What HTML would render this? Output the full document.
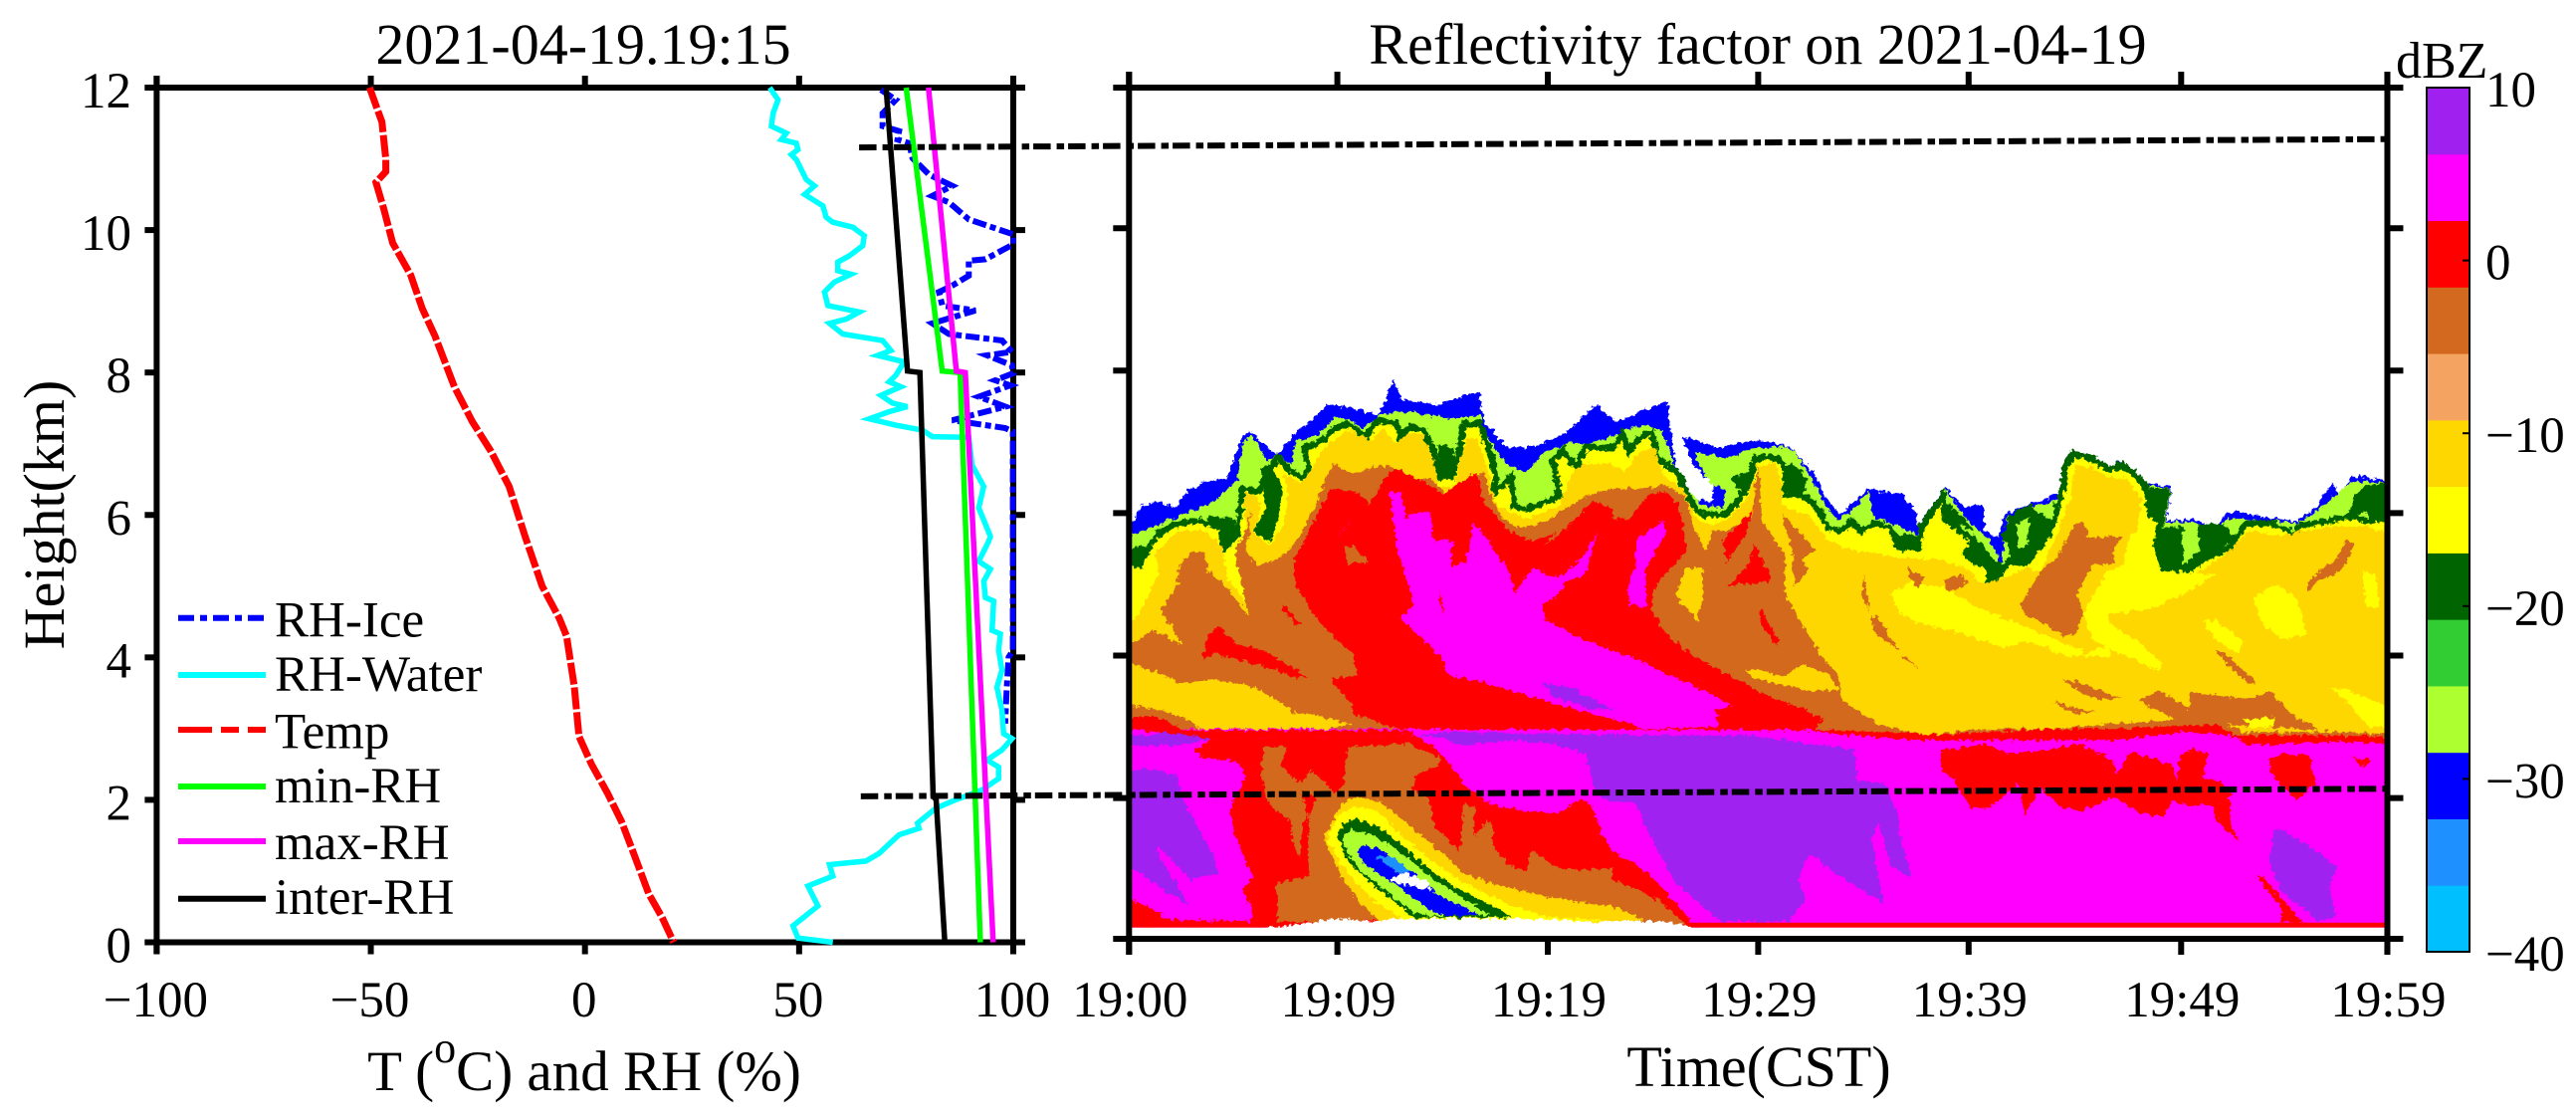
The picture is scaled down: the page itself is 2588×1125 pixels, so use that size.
<!DOCTYPE html>
<html lang="en">
<head>
<meta charset="utf-8">
<title>Reflectivity factor on 2021-04-19</title>
<style>
html,body{margin:0;padding:0;background:#fff;}
svg{display:block;}
text{font-family:"Liberation Serif",serif;fill:#000;}
</style>
</head>
<body>
<svg id="chart" xmlns="http://www.w3.org/2000/svg" width="2588" height="1125" viewBox="0 0 2588 1125">
  <defs>
    <clipPath id="field-clip"><rect x="1134.3" y="80" width="1263.4" height="863"/></clipPath>
    <filter id="rough" x="-2%" y="-2%" width="104%" height="104%">
      <feTurbulence type="fractalNoise" baseFrequency="0.2" numOctaves="3" seed="4" result="n"/>
      <feDisplacementMap in="SourceGraphic" in2="n" scale="8" xChannelSelector="R" yChannelSelector="G"/>
    </filter>
  </defs>
  <g id="field-clipper" clip-path="url(#field-clip)"><g id="field" filter="url(#rough)"></g><g id="field-base"></g></g>
  <g id="axes"></g>
  <g id="profiles"></g>
  <g id="refs"></g>
  <g id="legend"></g>
  <g id="cbar"></g>
  <g id="labels">
    <text x="586" y="64" font-size="58" text-anchor="middle">2021-04-19.19:15</text>
    <text x="1766" y="64" font-size="58" text-anchor="middle">Reflectivity factor on 2021-04-19</text>
    <text transform="translate(64,517) rotate(-90)" font-size="58" text-anchor="middle">Height(km)</text>
    <text x="587" y="1095" font-size="57" text-anchor="middle">T (<tspan font-size="44" dy="-28">o</tspan><tspan dy="28">C) and RH (%)</tspan></text>
    <text x="1767" y="1091" font-size="58" text-anchor="middle">Time(CST)</text>
    <text x="2407" y="78" font-size="52">dBZ</text>
  </g>
</svg>
<script>
// ---------- left panel data ----------
const heightTicks = [0, 2, 4, 6, 8, 10, 12];
const valueTicks = [-100, -50, 0, 50, 100];
const tempProfile = [[-50.3,12],[-48.5,11.7],[-47.4,11.52],[-46.5,11],[-46.5,10.82],[-48.8,10.67],[-47,10.3],[-44.9,9.82],[-40.7,9.37],[-38,8.9],[-35,8.51],[-30.5,7.8],[-26.3,7.31],[-22,6.9],[-17.7,6.4],[-14,5.7],[-10,5],[-6,4.55],[-4.3,4.3],[-2.5,3.6],[-1.4,2.89],[1.5,2.5],[5.3,2.09],[8.5,1.7],[11.1,1.29],[14.9,.68],[18,.35],[20.7,0]];
const rhWater = [[43.14,12],[45.08,11.83],[43.92,11.64],[43.53,11.46],[47.02,11.36],[45.85,11.27],[49.34,11.22],[49.73,11.13],[48.18,11.06],[49.34,10.99],[51.66,10.71],[53.6,10.62],[51.28,10.5],[55.54,10.34],[56.31,10.18],[57.86,10.11],[62.51,10.04],[65.22,9.92],[64.83,9.78],[61.73,9.64],[59.02,9.55],[59.02,9.43],[62.12,9.38],[58.25,9.27],[55.92,9.13],[56.7,8.94],[64.06,8.85],[60.96,8.75],[57.09,8.69],[60.19,8.54],[69.48,8.45],[71.42,8.31],[68.32,8.24],[74.51,8.15],[72.58,7.96],[71.03,7.87],[73.74,7.8],[69.09,7.68],[71.8,7.57],[75.29,7.52],[71.03,7.45],[66.38,7.35],[72.58,7.26],[78.78,7.19],[81.1,7.1],[89.62,7.09],[90.39,6.7],[93.1,6.4],[91.94,6.1],[94.65,5.7],[94.27,5.63],[91.94,5.35],[94.65,5.24],[93.1,5.07],[93.5,4.84],[95.43,4.79],[95.04,4.38],[96.97,4.33],[96.59,4.1],[97.36,3.82],[96.2,3.58],[97.36,3.26],[97.75,2.93],[99.69,2.86],[97.36,2.7],[93.88,2.56],[96.59,2.46],[96.59,2.3],[92.72,2.14],[86.52,2],[81.87,1.88],[77.61,1.67],[78,1.6],[73.35,1.51],[68.7,1.25],[65.61,1.14],[57.09,1.09],[57.86,.93],[52.05,.79],[53.21,.65],[54.37,.51],[48.57,.23],[49.73,.06],[57.86,0]];
const rhIce = [[69.09,11.97],[72.58,11.83],[69.48,11.64],[69.48,11.46],[73.35,11.39],[72.97,11.27],[75.68,11.22],[76.45,11.01],[80.32,10.78],[85.75,10.62],[81.1,10.48],[84.97,10.39],[89.62,10.15],[100,9.94],[100,9.8],[93.5,9.59],[89.62,9.57],[89.62,9.36],[85.75,9.22],[82.65,9.13],[83.42,8.94],[91.17,8.87],[81.1,8.69],[84.97,8.54],[97.37,8.45],[99.69,8.29],[93.88,8.24],[99.69,8.1],[100,7.99],[95.82,7.89],[99.3,7.82],[91.94,7.66],[98.14,7.52],[85.75,7.33],[98.14,7.22],[99.9,7.17],[99.9,5.4],[99.9,4.1],[98.9,4],[98.5,3.58],[98.1,3.07]];
const minRh = [[75,12],[83.4,8.02],[87.6,8],[92.3,0]];
const maxRh = [[80.2,12],[86.7,8.02],[88.8,8],[95.3,0]];
const interRh = [[70.3,12],[75.3,8.02],[78.2,8],[81.3,2.05],[82,2],[84,0]];

// reference lines: left end in RH and km, right end in minutes and km
const upperRefLine = [64, 11.16, 59.7, 11.25];
const lowerRefLine = [64.4, 2.05, 59.7, 2.13];

// ---------- right panel axis data ----------
const timeTickMinutes = [0, 9.9, 19.9, 29.9, 39.9, 50, 59.8];
const timeTickLabels = ['19:00', '19:09', '19:19', '19:29', '19:39', '19:49', '19:59'];
const panelHeightTicks = [2, 4, 6, 8, 10];

// ---------- colour scale ----------
const colorbarLevels = ['#00bfff','#1e90ff','#0000ff','#adff2f','#32cd32','#006400','#ffff00','#ffd700','#f4a460','#d2691e','#ff0000','#ff00ff','#a020f0'];
const colorbarTicks = [10, 0, -10, -20, -30, -40];
const DBZ_MIN = -40, DBZ_MAX = 10;

// ---------- reflectivity contour regions, [minute, km] ----------
const blueTop = [[0,5.8],[.59,6.1],[1.38,6.17],[2.16,6.08],[2.8,6.31],[3.58,6.45],[4.69,6.5],[5.4,7.1],[5.8,7.15],[6.4,6.96],[7.05,6.82],[7.84,7.1],[8.6,7.3],[9.5,7.53],[10.5,7.48],[11.84,7.38],[12.6,7.88],[13,7.58],[14.6,7.53],[15.5,7.6],[16.6,7.7],[16.9,7.28],[17.9,6.93],[19.26,6.93],[20.8,7.13],[22.2,7.53],[23.2,7.28],[24.3,7.43],[25.6,7.58],[25.75,7.2],[25.98,6.65],[26.77,6.17],[27.7,6.17],[27.75,6.4],[26.8,6.68],[26.3,7.08],[28,6.91],[29.76,7.03],[30.4,7],[31.5,6.91],[32.6,6.54],[33.2,6.17],[33.86,5.98],[34.3,6.12],[35.1,6.33],[36.7,6.26],[37.4,6.03],[37.5,5.8],[38.75,6.38],[39.7,6.07],[40.5,6.12],[40.7,5.75],[41.3,5.66],[41.6,5.98],[42.7,6.12],[43.5,6.2],[44.4,6.3],[44.8,6.87],[45.5,6.8],[46.6,6.63],[47.1,6.73],[47.65,6.61],[48.4,6.4],[49.55,6.38],[49.3,5.89],[50.7,5.91],[51.7,5.77],[52.1,5.98],[52.6,6.03],[53.9,5.94],[55.5,5.89],[56.4,6.08],[57.2,6.43],[57.5,6.24],[58.2,6.52],[59.8,6.47]];
const greenYellowTop = [[0,5.68],[2.16,5.93],[4.05,6.17],[5.15,6.47],[5.39,6.98],[5.79,7.1],[6.26,6.91],[6.57,6.72],[7.05,6.84],[7.68,6.68],[7.91,7],[9.1,7.12],[9.73,7.35],[10.5,7.31],[11.15,7.19],[11.94,7.38],[12.72,7.42],[13.51,7.42],[14.46,7.35],[15.56,7.33],[16.67,7.38],[16.9,7.14],[17.93,6.68],[18.87,6.58],[19.82,6.86],[21.08,7],[21.7,6.96],[22.98,7.07],[23.77,7.19],[24.56,7.24],[25.35,7.14],[25.74,6.82],[25.98,6.54],[26.77,6.26],[27.24,6.12],[28.2,6.07],[28.34,6.3],[27.55,6.44],[26.84,6.86],[28.34,6.77],[29.6,6.91],[31.18,6.93],[31.65,6.86],[32.44,6.49],[33.07,6.12],[33.7,5.89],[34.49,6.07],[35.12,6.3],[35.44,5.93],[36.4,5.84],[37.5,5.7],[38.75,6.35],[39.85,5.89],[40.48,5.75],[41.12,5.51],[41.43,5.28],[41.75,5.93],[42.54,6.07],[43.64,6.12],[44.43,6.26],[44.82,6.86],[45.5,6.78],[46.63,6.6],[47.1,6.7],[47.65,6.58],[48.4,6.38],[49.5,6.35],[49.25,5.87],[50.7,5.87],[51.7,5.74],[52.2,5.93],[53.9,5.9],[55.5,5.86],[56.4,6],[57.1,6.2],[58.2,6.45],[59.8,6.42]];
const yellowTop = [[0,5.28],[.5,5.28],[.9,5.51],[1.37,5.7],[2.16,5.84],[3.42,5.89],[4.37,5.79],[4.52,5.51],[5.15,5.7],[5.39,6.35],[6.1,6.3],[6.73,6.63],[7.05,6.79],[7.68,6.58],[8.31,6.49],[8.55,6.65],[8.31,6.91],[9.1,7],[9.57,7.14],[10.36,7.26],[11.3,7.07],[11.78,7.31],[12.72,7.26],[12.88,7.07],[13.35,7.21],[13.99,7.17],[14.54,6.82],[14.7,6.51],[15.33,6.51],[15.72,6.86],[15.88,7.24],[16.67,7.26],[17.14,6.86],[17.46,6.49],[17.22,6.24],[18.16,6.51],[18.32,6.1],[18.87,6.05],[20.45,6.23],[20.14,6.75],[20.61,6.89],[21.24,6.65],[21.71,6.93],[22.98,6.91],[23.45,7.12],[23.77,6.86],[24.24,7.05],[24.87,7.14],[25.1,6.77],[25.58,6.68],[26.13,6.54],[26.76,6.12],[27.24,5.98],[28.34,5.98],[28.82,6.12],[29.45,6.4],[29.76,6.77],[30.87,6.77],[31.26,6.58],[31.18,6.26],[31.97,6.26],[32.6,6.12],[33.23,5.79],[33.86,5.75],[34.33,5.89],[34.81,5.75],[35.44,5.86],[36.23,5.79],[36.54,5.51],[37.49,5.51],[37.65,5.79],[38.67,6.26],[38.83,5.89],[39.38,5.79],[40.17,5.6],[40.64,5.28],[41.27,5.19],[41.9,5.33],[42.69,5.3],[43.8,5.75],[44.42,6.4],[44.5,6.68],[44.89,6.84],[45.84,6.75],[46.63,6.61],[47.18,6.68],[47.73,6.56],[48.36,6.35],[48.52,5.98],[49,5.89],[48.84,5.54],[49.15,5.23],[50.1,5.14],[50.89,5.33],[52.3,5.51],[53.1,5.86],[54.2,5.86],[55.14,5.75],[55.4,5.63],[55.6,5.82],[57.04,5.89],[57.98,5.96],[58.93,5.89],[59.8,5.93]];
const darkGreenBlobs = [
  [[0,5.47],[.55,5.56],[.9,5.51],[.58,5.28],[0,5.3]],
  [[3.73,5.96],[5,5.93],[5.08,5.75],[4.6,5.51],[4.37,5.72],[3.9,5.86]],
  [[6.26,6.63],[6.73,6.68],[7.27,6.4],[7.2,6.03],[6.73,5.58],[5.94,5.75],[6.5,6.07],[6.45,6.2]],
  [[14.7,6.96],[15.4,6.91],[15.56,6.65],[15.25,6.51],[14.7,6.51]],
  [[28.66,6.51],[29.52,6.58],[29.45,6.3],[28.82,6.35]],
  [[31.02,6.5],[31.5,6.72],[32.2,6.49],[32.1,6.26],[31.5,6.21]],
  [[36.3,5.7],[37.57,5.7],[37.57,5.51],[36.4,5.5]],
  [[38.75,6.17],[39.38,6.03],[40.17,5.75],[38.9,5.89]],
  [[39.54,5.4],[40.17,5.7],[41.12,5.33],[41.9,5.28],[40.8,4.86],[40.56,4.79],[41.51,4.39],[40.8,4.49],[39.62,4.67],[40.09,4.79],[40.64,5],[40.8,5.19],[40.17,5.28]],
  [[41.51,5.7],[41.9,5.98],[42.77,6.12],[43.8,5.89],[43.48,5.51],[42.53,5.3],[41.98,5.33]],
  [[45.68,6.24],[46.31,6.42],[47.26,6.24],[47.02,6],[46.47,6.26]],
  [[48.36,6.35],[49.47,6.35],[49.15,5.79],[50.89,5.84],[51.99,5.84],[52.62,5.65],[51.36,5.37],[50.41,5.14],[49.15,5.26],[48.8,5.51],[49,5.84],[48.44,5.98]],
  [[57.98,5.93],[58.14,6.21],[58.69,6.37],[59.8,6.42],[59.8,5.89],[59.08,5.86],[58.77,6.03]]
];
const greenYellowStreaks = [
  [[50.1,5.84],[50.73,5.86],[50.89,5.47],[50.1,5.28]],
  [[42.2,5.85],[42.8,5.95],[42.7,5.55],[42.3,5.5]]
];
const goldTop = [[0,4.49],[.5,4.58],[1.37,5.14],[1.21,5.42],[2.32,5.75],[3.42,5.77],[4.37,5.56],[4.76,5.05],[5.39,4.81],[5.79,4.56],[5.47,5.05],[5.15,5.47],[5.55,5.68],[5.47,6.28],[6.02,6.26],[6.26,6.07],[5.94,5.72],[6.73,5.54],[7.36,5.86],[7.52,6.28],[7.28,6.56],[8.15,6.42],[8.78,6.65],[9.18,6.89],[10.36,7.17],[11.46,7.03],[12.09,7.17],[12.72,6.98],[13.2,7.12],[13.99,7.1],[14.46,6.75],[14.7,6.37],[15.41,6.37],[15.72,6.7],[16.04,7.03],[16.51,7.07],[17.14,6.51],[17.46,6.1],[18.24,6],[18.87,5.91],[20.45,6.1],[20.93,6.51],[21.55,6.7],[22.98,6.68],[23.6,6.58],[24.24,6.86],[25.03,6.91],[25.35,6.54],[26.29,6.35],[26.84,5.98],[27.4,5.84],[28.34,5.89],[29.29,6.17],[29.92,6.63],[30.71,6.72],[31.02,6.4],[31.02,6.12],[32.44,5.93],[33.23,5.61],[34.02,5.51],[35.6,5.42],[36.7,5.37],[38.75,5.33],[40.01,5.19],[40.48,5],[41.59,5.09],[42.69,5.23],[43.32,5.19],[43.95,5.61],[44.74,6.21],[44.98,6.68],[45.84,6.63],[46.63,6.49],[47.42,6.49],[48.13,6.17],[47.89,5.75],[47.42,5.61],[47.26,5.28],[49.31,5.09],[50.41,5.09],[51.99,5.4],[53.25,5.75],[54.83,5.68],[55.77,5.75],[57.19,5.82],[58.77,5.82],[59.8,5.72]];
const yellowPatches = [
  [[45.37,4.58],[46.47,5.19],[47.26,5.28],[49.15,5.19],[51.67,5.14],[50.1,4.86],[48.68,4.67],[46.47,4.58],[46.63,4.44],[47.89,4.21],[49.15,3.88],[48.84,3.79],[47.57,3.97],[45.84,4.21]],
  [[36.23,4.86],[37.17,5.05],[38.75,4.95],[40.33,4.67],[41.9,4.49],[43.48,4.3],[45.37,4.02],[46.63,4.16],[46.63,3.98],[45.06,4],[42.53,4.21],[41.59,4.11],[39.7,4.3],[37.17,4.49],[36.54,4.63]],
  [[53.41,4.81],[54.51,5],[55.46,4.81],[55.93,4.3],[54.83,4.23],[53.88,4.44]],
  [[51.04,4.49],[51.67,4.49],[52.94,4.21],[52.78,4.02],[51.67,4.21]],
  [[57.04,3.56],[57.98,3.51],[59.8,3.28],[59.8,3],[58.93,3],[57.98,3.32]],
  [[58.61,5.19],[59.24,5.14],[59.4,4.67],[58.77,4.67]],
  [[43.79,4.21],[45.37,4.07],[44.74,3.98],[43.79,4.07]]
];
const chocolateTop = [[0,4.16],[1.21,4.35],[2.55,4.14],[1.53,4.63],[2.32,5],[2.39,5.28],[3.1,5.47],[3.58,5.44],[3.74,5.19],[4.68,4.93],[5.71,4.56],[5.23,5.14],[5.08,5.51],[5.47,5.7],[5.79,6.03],[5.71,5.7],[5.55,5.47],[6.1,5.26],[7.21,5.37],[7.99,5.61],[8.78,6.07],[9.25,6.4],[9.73,6.7],[10.67,6.54],[11.62,6.65],[12.41,6.65],[13.51,6.47],[14.46,6.47],[15.09,6.26],[16.04,6.4],[16.82,6.58],[17.3,6.17],[17.77,5.93],[18.56,5.79],[19.82,5.89],[20.77,6.07],[21.87,6.26],[22.98,6.35],[24.71,6.35],[25.5,6.4],[26.45,6.21],[26.92,5.75],[27.4,5.47],[27.71,5.75],[28.34,5.75],[29.6,5.93],[29.92,6.72],[30.07,5.89],[31.18,5.42],[31.18,4.86],[31.81,4.53],[33.07,3.93],[33.7,3.74],[33.86,3.37],[35.6,3.04],[37.65,2.88],[40.33,2.97],[43.48,2.97],[46.79,3.04],[50.1,3.11],[51.67,3.09],[52.94,2.93],[57.19,2.93],[59.8,2.9]];
const chocolatePatches = [
  [[42.38,4.72],[43.32,5.19],[44.11,5.37],[44.9,5.84],[45.37,5.86],[45.6,5.65],[47.26,5.68],[46.79,5.51],[46.87,5.28],[45.84,5.28],[45.37,5.05],[45.05,4.86],[45.37,4.58],[44.97,4.3],[44.42,4.28],[43.48,4.44],[42.53,4.58]],
  [[55.93,5],[56.56,5.19],[57.35,5.33],[57.82,5.63],[58.22,5.58],[57.82,5.28],[57.35,5.14],[56.41,5.05],[56,4.88]],
  [[51.67,4.07],[51.99,4.05],[53.57,3.63],[53.25,3.6],[52.3,3.84]],
  [[44.34,3.67],[45.37,3.6],[47.18,3.39],[46.16,3.37],[45.05,3.51]],
  [[43.95,3.35],[44.74,3.28],[46,3.21],[45.21,3.18],[44.26,3.28]],
  [[47.97,3.37],[49,3.51],[50.41,3.25],[50.41,3.48],[53.25,3.39],[54.2,3.51],[55.22,3.18],[56.56,2.95],[51.67,3.04],[49.78,3.09],[48.52,3.28]],
  [[37.02,5.23],[37.8,5.09],[37.49,4.95],[37.09,5.09]],
  [[38.75,5.05],[39.54,5.14],[39.85,5],[39.38,4.93],[38.83,4.91]],
  [[34.97,5.14],[34.81,4.86],[35.12,4.63],[35.04,4.9]],
  [[35.28,4.58],[35.6,4.53],[36.54,4.09],[35.91,4.21],[35.36,4.35]],
  [[36.7,4.04],[37.49,3.83],[36.86,3.95]],
  [[44.35,3.67],[45.06,3.63],[46.63,3.44],[46.32,3.37],[45.37,3.46]],
  [[31.02,5.98],[31.81,5.75],[32.6,5.47],[31.97,5.37],[32.28,5.19],[31.65,4.98],[31.5,5.47]]
];
const goldOverChocolate = [
  [[0,3.91],[1.84,3.7],[2.47,3.6],[3.89,3.67],[5.94,3.56],[7.36,3.32],[7.84,3.2],[8.94,3.16],[10.52,3.04],[9.41,2.97],[3.42,2.97],[2.79,3.11],[1.37,3.25],[0,3.3]],
  [[25.98,4.86],[26.45,5.23],[27.24,5.23],[27.32,4.86],[27,4.49],[26.29,4.72]],
  [[29.21,3.81],[29.92,3.81],[31.18,3.7],[31.97,3.88],[33.23,3.74],[33.7,3.51],[32.44,3.51],[30.87,3.6],[29.6,3.7]]
];
const yellowOverChocolate = [[[52.94,3.11],[54.51,3.14],[54.36,3],[53.25,3]]];
const lowerMagentaTop = [[0,2.97],[32.6,2.97],[38,2.85],[44,2.9],[51.7,2.98],[53,2.85],[59.8,2.82]];
const bandLeft = [[0,3.14],[1.37,3.14],[2.63,2.95],[13.5,2.95],[13.5,2.88],[3.89,2.83],[0,2.97]];
const bandRight = [[32.6,2.96],[38.75,2.89],[43.79,2.97],[46.96,2.97],[51.67,3.04],[52.62,2.88],[57.19,2.88],[59.8,2.86],[59.8,2.76],[57.59,2.79],[53.25,2.74],[52.3,2.88],[50.1,2.93],[46.94,2.81],[43.79,2.81],[37.96,2.81],[34.02,2.89],[32.6,2.93]];
const redMain = [[7.84,5.37],[8.31,5.61],[9.1,6.07],[9.57,6.35],[10.83,6.3],[11.46,6.12],[11.94,6.4],[12.57,6.63],[13.83,6.47],[14.93,6.26],[16.51,6.58],[16.82,6.17],[18.08,5.75],[19.19,5.61],[20.29,5.72],[19.66,5.51],[20.77,5.79],[22.03,6.17],[22.97,6.07],[22.98,5.93],[23.77,5.93],[24.71,6.26],[25.5,6.3],[26.13,6.12],[26.53,5.47],[25.19,5.05],[24.79,4.72],[25.35,4.35],[26.45,4.07],[28.03,3.79],[30.55,3.42],[31.81,3.28],[32.99,3.11],[32.6,2.95],[12.88,2.97],[10.67,3.18],[10.52,3.35],[9.57,3.67],[10.83,3.72],[10.67,4.02],[9.57,4.3],[8.62,4.63],[7.91,5]];
const redStreaks = [
  [[4.21,4.42],[5.15,4.16],[6.42,4.07],[7.52,3.88],[8.47,3.7],[7.84,3.7],[6.57,3.83],[5.31,3.93],[4.05,4.02],[3.5,3.95],[3.74,4.3]],
  [[7.36,4.72],[8.15,4.44],[8,4.42],[7.28,4.63]],
  [[29.92,6.35],[29.6,6.03],[28.2,5.6],[28.42,5.3],[29.3,5.7]],
  [[29.68,5.6],[30.55,5.05],[28.5,4.98],[29.45,5.28]],
  [[30,4.66],[30.9,4.2],[30.7,4.15],[29.95,4.5]]
];
const chocolateInRed = [[[10.2,5.51],[10.67,5.54],[11.39,5.3],[10.36,5.3]]];
const magentaMain = [[12.41,6.3],[12.88,6.3],[13.2,5.93],[13.51,5.98],[14.3,6.03],[14.46,5.61],[15.41,5.61],[15.25,5.23],[16.04,5.33],[16.35,5.86],[16.98,5.65],[17.93,5.23],[18.4,4.86],[18.72,5.05],[19.19,5.23],[19.82,5.14],[20.45,5.09],[21.71,5.42],[22.26,5.77],[21.71,5.14],[20.77,5.05],[20.45,4.86],[19.66,4.72],[19.82,4.49],[21.4,4.25],[22.97,4.07],[23.93,3.98],[25.19,3.79],[27.71,3.46],[28.66,3.28],[27.87,3.25],[28.03,3],[24.56,2.97],[22.98,3.11],[19.66,3.37],[17.77,3.53],[16.67,3.65],[15.09,3.72],[14.93,3.93],[13.99,4.21],[12.88,4.53],[13.51,4.72],[13.04,5.23],[12.72,5.47],[12.57,5.84]];
const magentaSmall = [
  [[24.08,5.61],[25.35,5.89],[25.58,5.75],[24.56,5.23],[24.56,4.67],[23.77,4.72],[23.69,5],[24.08,5.28]],
  [[9.9,5.65],[10.67,5.98],[10.04,5.7]]
];
const redInMagenta = [[[14.7,4.95],[15.01,4.58],[14.85,4.63]]];
const purpleUpperPatch = [[[19.6,3.62],[21,3.55],[23,3.24],[21.8,3.26],[20.2,3.42]]];
const redLower = [[3.1,2.67],[3.42,2.58],[5.15,2.51],[5.55,2.32],[4.76,1.83],[5,1.5],[5.86,.9],[5.39,.71],[5.86,.43],[5.79,.27],[2,.29],[0,.6],[0,.18],[26.76,.18],[26.76,.25],[25.98,.53],[25.03,.85],[23.93,1.11],[22.98,1.23],[22.5,1.46],[22.03,1.88],[21.55,1.99],[20.29,1.78],[18.87,1.81],[17.14,1.92],[16.04,2.16],[15.09,2.53],[14.46,2.74],[13.51,2.88],[3.89,2.83]];
const chocolateLower = [[10.44,2.72],[13.36,2.76],[14.7,2.58],[14.7,2.44],[13.59,2.34],[13.51,2.11],[14.3,1.97],[14.46,1.64],[15.72,1.23],[15.88,1.92],[16.43,1.88],[16.43,1.46],[16.98,1.69],[17.3,1.6],[17.3,1.32],[17.93,1.09],[18.87,.97],[19.19,1.27],[20.14,1.04],[21.4,.99],[22.97,1.02],[22.98,.85],[24.24,.71],[25.35,.53],[26.13,.32],[26.53,.22],[11.62,.29],[7.05,.25],[7.05,.81],[8.7,.92],[7.91,1.27],[7.52,1.69],[6.57,1.97],[6.26,2.44],[6.42,2.72],[7.52,2.72],[7.2,2.44],[8.15,2.2],[8.62,2.39],[9.41,2.2],[9.73,2.06],[10.2,2.2]];
const redFingers = [
  [[7.36,1.65],[7.68,1.69],[7.84,1.27],[7.52,1.41]],
  [[8.2,2.1],[8.95,2.0],[8.2,1.6],[8.1,1.2],[8.6,.9],[8.5,1.15],[8.55,1.7]]
];
const ringGold = [[9.25,1.41],[10.04,1.9],[10.67,2.02],[11.94,1.95],[13.2,1.65],[14.3,1.37],[15.88,.95],[17.14,.81],[19.82,.62],[22.97,.48],[24.56,.29],[22.97,.25],[11.94,.27],[10.83,.57],[10.04,.95],[9.57,1.23]];
const ringYellow = [[9.41,1.41],[9.89,1.74],[10.67,1.88],[11.78,1.83],[12.88,1.5],[14.3,1.13],[15.88,.81],[18.24,.48],[19.82,.34],[22.97,.27],[13.04,.29],[11.62,.57],[10.36,.95]];
const ringDarkGreen = [[9.89,1.46],[10.2,1.65],[10.83,1.71],[11.78,1.6],[12.88,1.37],[14.3,.99],[15.72,.71],[16.98,.53],[18.24,.32],[13.51,.32],[12.88,.48],[11.3,.85],[10.36,1.13]];
const ringGreenYellow = [[10.12,1.41],[10.52,1.55],[11.46,1.5],[12.72,1.27],[14.3,.9],[15.72,.62],[17.14,.36],[14.3,.34],[13.51,.39],[11.94,.76],[10.99,.99],[10.36,1.23]];
const ringBlue = [[10.83,1.23],[11.15,1.34],[11.94,1.27],[13.51,.95],[14.77,.62],[16.67,.36],[15.09,.34],[14.3,.43],[12.57,.81],[11.3,1.04]];
const ringDodger = [[11.78,1.18],[12.41,1.18],[13.51,.95],[12.88,.95],[12.09,1.09]];
const ringGap = [[12.41,.85],[13.04,.95],[14.14,.85],[14.3,.71],[13.51,.76],[12.73,.81]];
const purpleLower = [
  [[0,2.88],[.9,2.88],[1.7,2.93],[3.89,2.83],[2.47,2.74],[.9,2.74],[0,2.74]],
  [[0,2.39],[1.21,2.41],[2.32,2.3],[2.47,2.02],[3.1,1.69],[4.05,1.18],[4.21,.95],[2.95,.85],[1.37,1.32],[1.37,1.23],[2.87,.48],[0,1.04]],
  [[13.51,2.86],[15.09,2.93],[22.98,2.88],[29.29,2.88],[34.49,2.69],[34.57,2.25],[35.91,2.2],[36.54,1.78],[36.62,1.5],[37.17,.9],[36.23,1.02],[35.6,1.64],[35.28,1.46],[35.83,.53],[34.02,.85],[32.28,1.23],[31.81,.85],[32.13,.57],[31.34,.27],[28.03,.27],[25.98,.81],[25.03,1.32],[24.08,1.92],[22.98,1.95],[22.19,2.04],[21.71,2.62],[20.14,2.76],[18.24,2.81],[16.04,2.74],[14.62,2.86]],
  [[54.36,1.55],[54.83,1.55],[56.41,1.27],[57.35,1.04],[57.04,.71],[57.35,.34],[56.56,.27],[54.83,.67],[54.2,1.09]]
];
const redBlobsLower = [
  [[38.59,2.67],[40.64,2.76],[41.9,2.62],[43.48,2.67],[45.21,2.76],[46.79,2.53],[46.94,2.34],[47.57,2.65],[49.62,2.46],[49.78,2.2],[49.94,2.58],[50.57,2.69],[51.28,2.62],[51.04,2.3],[51.83,2.23],[52.3,2.11],[52.38,1.64],[52.78,1.37],[51.83,1.64],[51.36,1.92],[50.41,1.88],[49.62,1.97],[49.15,1.74],[48.05,1.79],[46.79,2.02],[45.21,1.81],[44.26,1.88],[43.79,2],[43.32,2.16],[42.53,1.74],[42.3,2.2],[40.8,1.85],[40.01,1.85],[39.22,2.25],[38.59,2.39]],
  [[54.2,2.53],[54.83,2.62],[56.09,2.6],[56.41,2.2],[55.46,1.97],[54.2,2.39]],
  [[58.06,2.58],[59.08,2.53],[58.61,2.44]],
  [[53.57,.9],[53.88,.9],[55.77,.25],[54.75,.25],[54.75,.48]]
];
const bottomGap = [[6.5,.1],[6.5,.18],[7.5,.2],[8.5,.25],[9.5,.3],[10.5,.29],[11.5,.27],[12.5,.3],[14,.3],[16,.31],[18,.3],[20,.3],[22,.26],[24,.28],[25,.27],[26,.24],[26.8,.18],[26.8,.1]];
const bottomRedStrip = [[26.7,.25],[59.8,.25],[59.8,.18],[26.7,.18]];
const bottomLeftStrip = [[0,.23],[6.5,.23],[6.5,.18],[0,.18]];
const belowEcho = [[0,.18],[59.8,.18],[59.8,-.1],[0,-.1]];

// ---------- level of each region (dBZ inside the matching colour band) ----------
const levelBlue = -30, levelDodger = -34, levelGreenYellow = -26, levelDarkGreen = -18, levelYellow = -14, levelGold = -10, levelChocolate = -3, levelRed = 0, levelMagenta = 4, levelPurple = 8;
const ENVELOPE_BASE_KM = 2.7;

// ---------- axis functions ----------
function xValue(v) { return 587.7 + 4.303 * v; }
function yLeft(km) { return 946.5 - 71.54 * km; }
function xMinute(m) { return 1134.3 + 21.14 * m; }
function yRight(km) { return 944.7 - 71.55 * km; }
function yBar(d) { return 88 + (DBZ_MAX - d) / (DBZ_MAX - DBZ_MIN) * 868; }
function colorFor(d) {
  const i = Math.floor((d - DBZ_MIN) / ((DBZ_MAX - DBZ_MIN) / colorbarLevels.length));
  return colorbarLevels[Math.max(0, Math.min(colorbarLevels.length - 1, i))];
}

const NS = 'http://www.w3.org/2000/svg';
function add(parent, tag, name) {
  const el = document.createElementNS(NS, tag);
  
  
  parent.appendChild(el);
  return el;
}
function line(parent, name, x1, y1, x2, y2, w) {
  const el = add(parent, 'line', name);
  el.setAttribute('x1', x1); el.setAttribute('y1', y1);
  el.setAttribute('x2', x2); el.setAttribute('y2', y2);
  el.setAttribute('stroke', '#000');
  el.setAttribute('stroke-width', w);
  return el;
}
function label(parent, name, x, y, s, anchor) {
  const el = add(parent, 'text', name);
  el.setAttribute('x', x); el.setAttribute('y', y);
  el.setAttribute('font-size', 51);
  el.setAttribute('text-anchor', anchor);
  el.textContent = s;
  return el;
}
function fmt(v) { return String(v).replace('-', '\u2212'); }

// ---------- reflectivity field ----------
const field = document.getElementById('field');
const fieldBase = document.getElementById('field-base');
function toPoints(pts) { return pts.map(p => xMinute(p[0]).toFixed(1) + ',' + yRight(p[1]).toFixed(1)).join(' '); }
function region(name, fill, pts, parent) {
  const el = add(parent || field, 'polygon', name);
  el.setAttribute('points', toPoints(pts));
  el.setAttribute('fill', fill);
  return el;
}
function envelope(name, level, top) {
  const closed = top.concat([[top[top.length - 1][0], ENVELOPE_BASE_KM], [top[0][0], ENVELOPE_BASE_KM]]);
  return region(name, colorFor(level), closed);
}
function regions(name, level, list) { list.forEach(pts => region(name, colorFor(level), pts)); }

envelope('contour-blue', levelBlue, blueTop);
envelope('contour-green-yellow', levelGreenYellow, greenYellowTop);
envelope('contour-yellow', levelYellow, yellowTop);
const yellowEdge = add(field, 'polyline', 'contour-dark-green-edge');
yellowEdge.setAttribute('points', toPoints(yellowTop));
yellowEdge.setAttribute('fill', 'none');
yellowEdge.setAttribute('stroke', colorFor(levelDarkGreen));
yellowEdge.setAttribute('stroke-width', 6);
regions('contour-dark-green-blob', levelDarkGreen, darkGreenBlobs);
regions('contour-green-yellow-streak', levelGreenYellow, greenYellowStreaks);
envelope('contour-gold', levelGold, goldTop);
regions('contour-yellow-patch', levelYellow, yellowPatches);
envelope('contour-chocolate', levelChocolate, chocolateTop);
regions('contour-chocolate-patch', levelChocolate, chocolatePatches);
regions('contour-gold-patch', levelGold, goldOverChocolate);
regions('contour-yellow-patch', levelYellow, yellowOverChocolate);
region('contour-lower-magenta', colorFor(levelMagenta), lowerMagentaTop.concat([[59.8, .1], [0, .1]]));
region('contour-melting-band-left', colorFor(levelRed), bandLeft);
region('contour-melting-band-right', colorFor(levelRed), bandRight);
region('contour-red-main', colorFor(levelRed), redMain);
regions('contour-red-streak', levelRed, redStreaks);
regions('contour-chocolate-in-red', levelChocolate, chocolateInRed);
region('contour-magenta-main', colorFor(levelMagenta), magentaMain);
regions('contour-magenta-small', levelMagenta, magentaSmall);
regions('contour-red-in-magenta', levelRed, redInMagenta);
regions('contour-purple-patch', levelPurple, purpleUpperPatch);
region('contour-red-lower', colorFor(levelRed), redLower);
region('contour-chocolate-lower', colorFor(levelChocolate), chocolateLower);
regions('contour-red-finger', levelRed, redFingers);
region('ring-gold', colorFor(levelGold), ringGold);
region('ring-yellow', colorFor(levelYellow), ringYellow);
region('ring-dark-green', colorFor(levelDarkGreen), ringDarkGreen);
region('ring-green-yellow', colorFor(levelGreenYellow), ringGreenYellow);
region('ring-blue', colorFor(levelBlue), ringBlue);
region('ring-dodger-blue', colorFor(levelDodger), ringDodger);
region('ring-no-echo-gap', '#ffffff', ringGap);
regions('contour-purple-lower', levelPurple, purpleLower);
regions('contour-red-blob', levelRed, redBlobsLower);
region('bottom-no-echo-gap', '#ffffff', bottomGap);
region('bottom-red-strip', colorFor(levelRed), bottomRedStrip, fieldBase);
region('bottom-left-red-strip', colorFor(levelRed), bottomLeftStrip, fieldBase);
region('below-echo-gap', '#ffffff', belowEcho, fieldBase);

// ---------- axes ----------
const axes = document.getElementById('axes');
const L = { l: xValue(-100), r: xValue(100), t: yLeft(12), b: yLeft(0), tick: 12 };
const R = { l: xMinute(0), r: xMinute(59.8), t: 88, b: 943, tick: 16 };
const AXW = 6;

line(axes, 'left-panel-left-axis', L.l, L.t - L.tick, L.l, L.b + L.tick, AXW);
line(axes, 'left-panel-right-axis', L.r, L.t - L.tick, L.r, L.b + L.tick, AXW);
line(axes, 'left-panel-top-axis', L.l - L.tick, L.t, L.r + L.tick, L.t, AXW);
line(axes, 'left-panel-bottom-axis', L.l - L.tick, L.b, L.r + L.tick, L.b, AXW);
heightTicks.forEach(km => {
  const y = yLeft(km);
  line(axes, 'left-panel-y-tick', L.l - L.tick, y, L.l, y, AXW);
  line(axes, 'left-panel-y-tick-right', L.r, y, L.r + L.tick, y, AXW);
  label(axes, 'y-tick-label', 132, y + 20, fmt(km), 'end');
});
valueTicks.forEach(v => {
  const x = xValue(v);
  line(axes, 'left-panel-x-tick-top', x, L.t - L.tick, x, L.t, AXW);
  line(axes, 'left-panel-x-tick', x, L.b, x, L.b + L.tick, AXW);
  label(axes, 'x-tick-label', x - 1, 1021, fmt(v), 'middle');
});

line(axes, 'right-panel-left-axis', R.l, R.t - R.tick, R.l, R.b + R.tick, AXW);
line(axes, 'right-panel-right-axis', R.r, R.t - R.tick, R.r, R.b + R.tick, AXW);
line(axes, 'right-panel-top-axis', R.l - R.tick, R.t, R.r + R.tick, R.t, AXW);
line(axes, 'right-panel-bottom-axis', R.l - R.tick, R.b, R.r + R.tick, R.b, AXW);
panelHeightTicks.forEach(km => {
  const y = yRight(km);
  line(axes, 'right-panel-y-tick', R.l - R.tick, y, R.l, y, AXW);
  line(axes, 'right-panel-y-tick-right', R.r, y, R.r + R.tick, y, AXW);
});
timeTickMinutes.forEach((m, i) => {
  const x = xMinute(m);
  line(axes, 'time-tick-top', x, R.t - R.tick, x, R.t, AXW);
  line(axes, 'time-tick', x, R.b, x, R.b + R.tick, AXW);
  label(axes, 'time-tick-label', x + 1, 1021, timeTickLabels[i], 'middle');
});

// ---------- profile lines ----------
const profiles = document.getElementById('profiles');
function profile(name, pts, color, width, dash) {
  const el = add(profiles, 'polyline', name);
  el.setAttribute('points', pts.map(p => xValue(p[0]).toFixed(1) + ',' + yLeft(p[1]).toFixed(1)).join(' '));
  el.setAttribute('fill', 'none');
  el.setAttribute('stroke', color);
  el.setAttribute('stroke-width', width);
  if (dash) el.setAttribute('stroke-dasharray', dash);
  return el;
}
profile('rh-ice-line', rhIce, '#0000ff', 6, '14 4 6 4');
profile('rh-water-line', rhWater, '#00ffff', 5.5);
profile('temp-line', tempProfile, '#ff0000', 7, '22 3');
profile('min-rh-line', minRh, '#00ff00', 5.5);
profile('max-rh-line', maxRh, '#ff00ff', 5.5);
profile('inter-rh-line', interRh, '#000000', 5.5);

// ---------- reference lines ----------
const refs = document.getElementById('refs');
function refLine(name, a) {
  const el = line(refs, name, xValue(a[0]), yLeft(a[1]), xMinute(a[2]), yRight(a[3]), 6);
  el.setAttribute('stroke-dasharray', '17.5 6 7.5 4');
}
refLine('upper-height-reference-line', upperRefLine);
refLine('lower-height-reference-line', lowerRefLine);

// ---------- legend ----------
const legend = document.getElementById('legend');
const legendLabels = ['RH-Ice', 'RH-Water', 'Temp', 'min-RH', 'max-RH', 'inter-RH'];
const legendColors = ['#0000ff', '#00ffff', '#ff0000', '#00ff00', '#ff00ff', '#000000'];
const legendDashes = ['16 6 7 6', '', '34 9 18 9', '', '', ''];
const legendLineY = [620.7, 678, 733, 790, 845, 902.7];
const legendTextY = [639.3, 694, 751.7, 806, 863, 918];
legendLabels.forEach((s, i) => {
  const ln = line(legend, 'legend-swatch', 179, legendLineY[i], 267, legendLineY[i], 6);
  ln.setAttribute('stroke', legendColors[i]);
  if (legendDashes[i]) ln.setAttribute('stroke-dasharray', legendDashes[i]);
  const t = label(legend, 'legend-label', 276, legendTextY[i], s, 'start');
  t.setAttribute('font-size', 51);
});

// ---------- colorbar ----------
const cbar = document.getElementById('cbar');
const BAR_L = 2438, BAR_R = 2481;
colorbarLevels.forEach((c, i) => {
  const step = (DBZ_MAX - DBZ_MIN) / colorbarLevels.length;
  const hi = DBZ_MIN + (i + 1) * step, lo = DBZ_MIN + i * step;
  const r = add(cbar, 'rect', 'colorbar-segment');
  r.setAttribute('x', BAR_L);
  r.setAttribute('y', yBar(hi));
  r.setAttribute('width', BAR_R - BAR_L);
  r.setAttribute('height', yBar(lo) - yBar(hi) + 0.5);
  r.setAttribute('fill', c);
});
const outline = add(cbar, 'rect', 'colorbar-outline');
outline.setAttribute('x', BAR_L);
outline.setAttribute('y', yBar(DBZ_MAX));
outline.setAttribute('width', BAR_R - BAR_L);
outline.setAttribute('height', yBar(DBZ_MIN) - yBar(DBZ_MAX));
outline.setAttribute('fill', 'none');
outline.setAttribute('stroke', '#000');
outline.setAttribute('stroke-width', 2);
colorbarTicks.forEach(d => {
  const y = yBar(d);
  line(cbar, 'colorbar-tick', BAR_R - 7, y, BAR_R, y, 2);
  label(cbar, 'colorbar-tick-label', 2497, y + 19, fmt(d), 'start');
});
</script>
</body>
</html>
